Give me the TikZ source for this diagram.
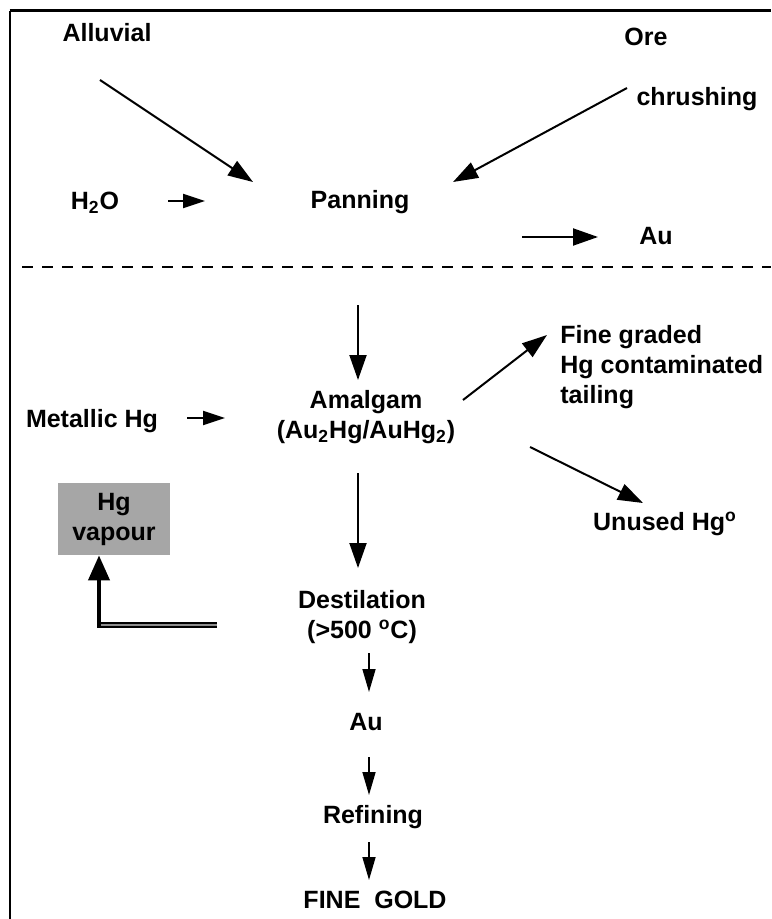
\documentclass[tikz,border=0pt]{standalone}
\usepackage{fontspec}
\setmainfont{Liberation Sans}
\usetikzlibrary{arrows.meta,calc,positioning}

\begin{document}
\begin{tikzpicture}[x=0.5pt,y=-0.5pt,
	lbl/.style={font=\bfseries\fontsize{12.5}{15}\selectfont,inner sep=0pt,align=center},
	flow/.style={line width=1pt,-{Triangle[length=12.5pt,width=8.5pt]}},
	feed/.style={line width=1pt,-{Triangle[length=11pt,width=7pt]}},
	drop/.style={line width=0.8pt,-{Triangle[length=11.5pt,width=6.5pt]}}]
\useasboundingbox (0,0) rectangle (771,919);

\draw[line width=1pt] (10,919) -- (10,11);
\draw[line width=1.5pt] (9.5,11) -- (771,11);
\draw[line width=0.8pt,dash pattern=on 5.5pt off 4.5pt] (22,267) -- (771,267);

% panning
\node[lbl,anchor=base] (alluvial) at (107,42) {Alluvial};
\node[lbl,anchor=base] (ore) at (646,46) {Ore};
\node[lbl,anchor=base] (chrushing) at (697,106) {chrushing};
\node[lbl,anchor=base] (water) at (95,210) {H\textsubscript{2}O};
\node[lbl,anchor=base] (panning) at (360,209) {Panning};
\node[lbl,anchor=base] (goldA) at (656,245) {Au};

\coordinate (alluvial-out) at (100,80);
\coordinate (ore-out) at (627,88);
\coordinate (panning-inA) at (253,182);
\coordinate (panning-inB) at (453,182);
\coordinate (water-out) at (168,201);
\coordinate (water-in) at (205,201);
\coordinate (goldA-out) at (522,237);
\coordinate (goldA-in) at (598,237);

\draw[flow] (alluvial-out) -- (panning-inA);
\draw[flow] (ore-out) -- (panning-inB);
\draw[feed] (water-out) -- (water-in);
\draw[flow] (goldA-out) -- (goldA-in);

% amalgamation
\node[lbl,anchor=north] (amalgam) at (366,390) {Amalgam\\(Au\textsubscript{2}Hg/AuHg\textsubscript{2})};
\node[lbl,anchor=base] (metallic) at (92,427) {Metallic Hg};
\node[lbl,anchor=north west,align=left] (tailing) at (560,325) {Fine graded\\Hg contaminated\\tailing};
\node[lbl,anchor=base] (unused) at (665,530) {Unused Hg\textsuperscript{o}};
\node[lbl,anchor=north] (destil) at (362,590) {Destilation\\(>500 \textsuperscript{o}C)};
\node[lbl,fill=black!35,minimum width=56pt,minimum height=36pt] (vapour) at (114,519) {Hg\\vapour};

\coordinate (amalgam-in) at (358,305);
\coordinate (amalgam-top) at (358,380);
\coordinate (metallic-out) at (187,418);
\coordinate (metallic-in) at (225,418);
\coordinate (tailing-out) at (463,400);
\coordinate (tailing-in) at (547,335);
\coordinate (unused-out) at (530,447);
\coordinate (unused-in) at (643,503);
\coordinate (destil-out) at (358,473);
\coordinate (destil-in) at (358,568);
\coordinate (vapour-out) at (217,625);
\coordinate (vapour-turn) at (99,625);

\draw[flow] (amalgam-in) -- (amalgam-top);
\draw[feed] (metallic-out) -- (metallic-in);
\draw[flow] (tailing-out) -- (tailing-in);
\draw[flow] (unused-out) -- (unused-in);
\draw[flow] (destil-out) -- (destil-in);
\draw[line width=0.7pt,double=black!45,double distance=1.2pt] (vapour-out) -- (vapour-turn);
\draw[line width=2pt,-{Triangle[length=12.5pt,width=10.5pt]}] ($(vapour-turn)+(0,2.5)$) -- (vapour-turn |- vapour.south);

% refining
\node[lbl,anchor=base] (goldB) at (366,730) {Au};
\node[lbl,anchor=base] (refining) at (373,823) {Refining};
\node[lbl,anchor=base] (fine) at (375,908) {FINE\ \ GOLD};

\coordinate (destil-down) at (369,653);
\coordinate (goldB-top) at (369,692);
\coordinate (goldB-down) at (369,757);
\coordinate (refining-top) at (369,795);
\coordinate (refining-down) at (369,842);
\coordinate (fine-top) at (369,880);

\draw[drop] (destil-down) -- (goldB-top);
\draw[drop] (goldB-down) -- (refining-top);
\draw[drop] (refining-down) -- (fine-top);

\end{tikzpicture}
\end{document}
